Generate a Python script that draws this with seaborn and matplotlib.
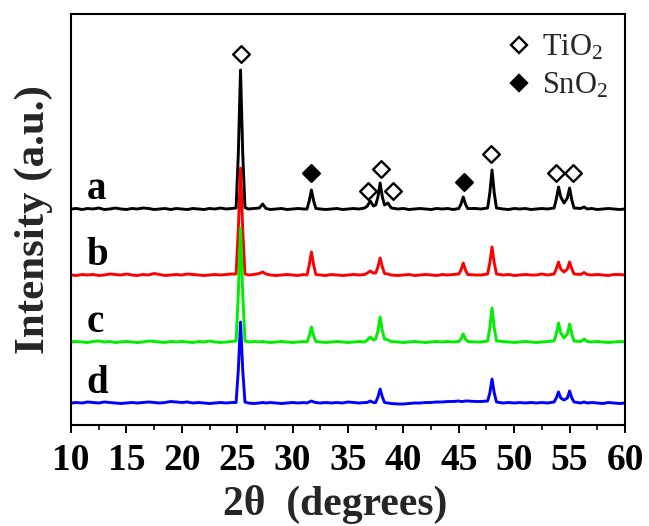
import numpy as np
import pandas as pd
import matplotlib
matplotlib.use("Agg")
import matplotlib.pyplot as plt
import seaborn as sns
from matplotlib.lines import Line2D
from matplotlib.ticker import AutoMinorLocator

# ---------------- data ----------------
two_theta = [
    10.0, 10.5, 11.0, 11.5, 12.0, 12.5, 13.0, 13.5, 14.0, 14.5,
    15.0, 15.5, 16.0, 16.5, 17.0, 17.5, 18.0, 18.5, 19.0, 19.5,
    20.0, 20.5, 21.0, 21.5, 22.0, 22.5, 23.0, 23.5, 24.0, 24.5,
    24.9, 25.1, 25.3, 25.5, 25.7, 26.0, 26.5, 27.0, 27.3, 27.6,
    28.0, 28.5, 29.0, 29.5, 30.0, 30.5, 31.0, 31.3, 31.5, 31.7,
    31.9, 32.1, 32.5, 33.0, 33.5, 34.0, 34.5, 35.0, 35.5, 36.0,
    36.5, 36.75, 37.0, 37.3, 37.5, 37.7, 37.9, 38.1, 38.3, 38.6,
    38.9, 39.5, 40.0, 40.5, 41.0, 41.5, 42.0, 42.5, 43.0, 43.5,
    44.0, 44.5, 45.0, 45.2, 45.4, 45.6, 45.8, 46.5, 47.0, 47.6,
    47.8, 48.0, 48.2, 48.4, 49.0, 49.5, 50.0, 50.5, 51.0, 51.5,
    52.0, 52.5, 53.0, 53.6, 53.8, 54.0, 54.2, 54.5, 54.8, 55.0,
    55.2, 55.4, 56.0, 56.3, 56.6, 57.0, 57.5, 58.0, 58.5, 59.0,
    59.5, 60.0,
]

intensity_a = [
    0, 0.5, -0.5, 0.5, 0, 1, -0.5, 0, 1, 0,
    -0.5, 0.5, 0, 1, 0.5, -0.5, 0, 0.5, -0.5, 0.5,
    0, -0.5, 0.5, 0, -0.5, 0.5, 0, 1, 0, 0.5,
    1, 55, 139, 55, 1.5, 0, 0.5, 1, 5, 0.5,
    -0.5, 0, 0.5, -0.5, 0, 0.5, 0, 0, 8, 19,
    8, 0.5, 0, -0.5, 0, 0.5, -0.5, 0, 0.5, 0,
    1, 3, 8, 3, 4, 12, 26, 12, 4, 6,
    1, 0, 0.5, -0.5, 0, 0.5, 0, -0.5, 0.5, 0,
    0.5, -0.5, 0.5, 5, 12, 5, 0.5, 0.5, 0, 1,
    16, 39, 16, 1, 0, -0.5, 0.5, 0, 0.5, -0.5,
    0, 0.5, 0, 1, 10, 22, 12, 6, 11, 21,
    9, 1, 0.5, 2, 0, 0.5, -0.5, 0, 0.5, 0,
    -0.5, 0,
]
intensity_b = [
    0, -0.5, 0.5, 0, 0.5, -0.5, 0, 1, 0.5, 0,
    1, 0, -0.5, 0.5, 0, 1.5, 0.5, -0.5, 0, 0.5,
    0, 1, 0.5, 0, -0.5, 0, 0.5, 0, 0.5, 1,
    1, 45, 107, 45, 1, 0, 0.5, 1.5, 3, 1,
    0, -0.5, 0, 0.5, 0, -0.5, 0.5, 0, 10, 23,
    10, 0.5, 0, -0.5, 0.5, 0, -0.5, 0, 0.5, 0,
    0.5, 2, 4, 2, 2, 8, 17, 8, 1.5, 1,
    0, -0.5, 0, 0.5, -0.5, 0, 0.5, 0, -0.5, 0.5,
    0, 0.5, 1, 5, 12, 5, 0.5, 0, 0, 1,
    12, 28, 12, 1, 0, 0.5, -0.5, 0, 0.5, 0,
    0, 1, 0, 1, 6, 13, 6, 3, 6, 13,
    6, 1, 0.5, 2.5, 0.5, 0, 0.5, 0, -0.5, 0.5,
    0.5, 0,
]
intensity_c = [
    0, 0.5, 0, -0.5, 0.5, 1, 0, 0.5, -0.5, 0,
    0.5, 0, -0.5, 0, 1, 0.5, 0, -0.5, 0.5, 0,
    0.5, 0, -0.5, 0.5, 0, 1, 0, -0.5, 0, 0.5,
    1, 48, 114, 48, 1, 0, 0.5, 0, 0.5, 0,
    -0.5, 0, 0.5, 0, -0.5, 0, 0.5, 0, 6, 15,
    6, 0.5, 0, -0.5, 0, 0.5, 0, -0.5, 0, 0.5,
    0, 2, 5, 2, 3, 11, 25, 11, 3, 2,
    0.5, 0, -0.5, 0, 0.5, 0, -0.5, 0, 0.5, 0,
    0.5, 0, 0.5, 3, 8, 3, 0.5, 0, 0, 1,
    14, 34, 14, 1, 0.5, 0, -0.5, 0, 0.5, 0,
    -0.5, 0, 0.5, 1, 8, 19, 9, 4, 8, 18,
    8, 1, 0.5, 3, 0.5, 0, 0.5, 0, -0.5, 0,
    0.5, 0,
]
intensity_d = [
    0, 0.5, 0, 1, 0.5, 0, 1, 0.5, 0, -0.5,
    0, 0.5, 0, 0.5, 1, 0.5, 0, 0.5, 1.5, 1,
    0.5, 1, 0, 0.5, 0, -0.5, 0, 0.5, 0, 0.5,
    0.5, 33, 81, 33, 1, 0, -0.5, 0, 0.5, 0,
    0.5, 0, -0.5, 0, 0.5, 0, 0.5, 0, 1, 2,
    1, 0.5, 0, 0.5, 0, 0.5, 0, 1, 0.5, 0,
    0.5, 0.5, 2, 0.5, 0.5, 6, 14, 6, 0.5, 0,
    -0.5, -1, -1, -0.5, 0, 0, 0.5, 0.5, 1, 1,
    1.5, 1.5, 2, 1.5, 1.5, 2, 2, 1.5, 1.5, 2,
    10, 24, 10, 1, 0, 0.5, 0, 0.5, 0, 0.5,
    0, 0.5, 0, 1, 5, 11, 5, 3, 5, 12,
    5, 1, 0, 1, 0, 0.5, 0, -0.5, 0.5, 0,
    -0.5, 0,
]

sample_names = ["a", "b", "c", "d"]
sample_offsets = [216, 150, 83, 22]
sample_colors = ["#000000", "#ff0000", "#00ee00", "#0000ff"]

tio2_x = [25.3, 36.8, 37.95, 39.1, 47.95, 53.8, 55.3]
tio2_y = [371, 234, 256, 234, 271, 252, 252]
sno2_x = [31.7, 45.45]
sno2_y = [252, 243]

x_ticks = [10, 15, 20, 25, 30, 35, 40, 45, 50, 55, 60]

# ---------------- style ----------------
sns.set_style("white")
plt.rcParams["font.family"] = ["Liberation Serif", "DejaVu Serif"]
plt.rcParams["mathtext.fontset"] = "custom"
plt.rcParams["mathtext.rm"] = "Liberation Serif"
plt.rcParams["mathtext.it"] = "Liberation Serif:italic"
plt.rcParams["mathtext.bf"] = "Liberation Serif:bold"

fig = plt.figure(figsize=(6.49, 5.26), dpi=100)
ax = fig.add_axes([71 / 649, 1 - 425 / 526, 554 / 649, 411 / 526])

series = [intensity_a, intensity_b, intensity_c, intensity_d]
for name, off, col, vals in zip(sample_names, sample_offsets, sample_colors, series):
    df = pd.DataFrame({"two_theta": two_theta, "I": np.asarray(vals, float) + off})
    sns.lineplot(data=df, x="two_theta", y="I", color=col, lw=2.1,
                 estimator=None, sort=False, ax=ax)
    ax.text(11.4, off + 10, name, fontsize=28, fontweight="bold",
            ha="left", va="baseline", color="black")

sns.scatterplot(x=tio2_x, y=tio2_y, marker="D", s=72, facecolor="white",
                edgecolor="black", linewidth=1.7, ax=ax, zorder=5)
sns.scatterplot(x=sno2_x, y=sno2_y, marker="D", s=72, facecolor="black",
                edgecolor="black", linewidth=1.7, ax=ax, zorder=5)

handles = [
    Line2D([], [], ls="none", marker="D", ms=8.5, mfc="white", mec="black",
           mew=1.7, label="TiO$_2$"),
    Line2D([], [], ls="none", marker="D", ms=8.5, mfc="black", mec="black",
           mew=1.7, label="SnO$_2$"),
]
ax.legend(handles=handles, loc="upper left", bbox_to_anchor=(0.781, 0.953),
          frameon=False, prop={"size": 22, "weight": "normal"},
          handlelength=1.0, handletextpad=0.25, labelspacing=0.28,
          borderpad=0, borderaxespad=0)

ax.set_xlim(10, 60)
ax.set_ylim(0, 411)
ax.set_xticks(x_ticks)
ax.set_xticklabels([str(t) for t in x_ticks])
ax.xaxis.set_minor_locator(AutoMinorLocator(2))
ax.set_yticks([])
ax.tick_params(axis="x", which="major", direction="out", length=6, width=1.4,
               labelsize=27, pad=7, colors="black", bottom=True, top=False)
ax.tick_params(axis="x", which="minor", direction="out", length=3.5, width=1.4,
               bottom=True, top=False)
for lab in ax.get_xticklabels():
    lab.set_fontweight("bold")

ax.set_xlabel("2θ  (degrees)", fontsize=30, fontweight="bold", labelpad=5, x=0.4765)
ax.set_ylabel("Intensity (a.u.)", fontsize=31, fontweight="bold", labelpad=13)

for sp in ax.spines.values():
    sp.set_linewidth(1.5)
    sp.set_color("black")

fig.savefig("out.png", dpi=100)
